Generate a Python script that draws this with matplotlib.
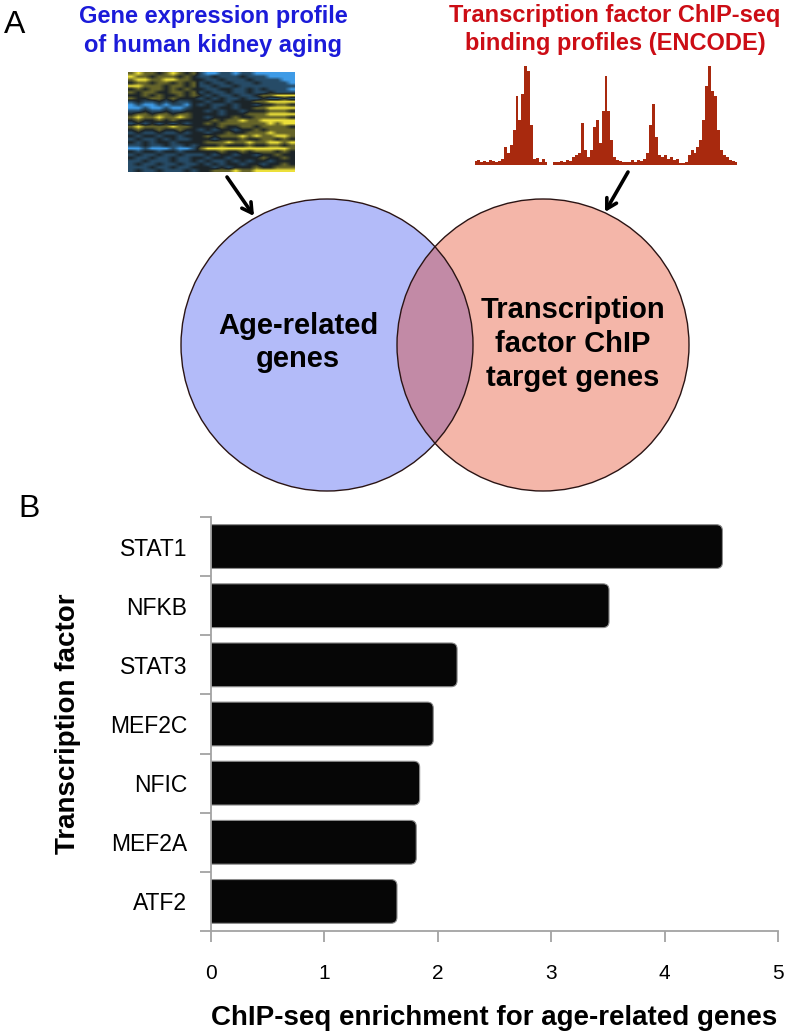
import numpy as np
import matplotlib
matplotlib.use('Agg')
import matplotlib.pyplot as plt
from matplotlib.patches import Circle, FancyBboxPatch
from matplotlib.colors import LinearSegmentedColormap

plt.rcParams['font.family'] = ['Liberation Sans', 'DejaVu Sans']

# ---------------- data ----------------
factors = ['STAT1', 'NFKB', 'STAT3', 'MEF2C', 'NFIC', 'MEF2A', 'ATF2']
enrichment = [4.51, 3.51, 2.17, 1.96, 1.84, 1.81, 1.64]
x_ticks = [0, 1, 2, 3, 4, 5]

# heatmap of kidney-aging expression (Y=high ... B=low); left block | right block
heatmap_rows = [
    "yYyykyYyky" + "bBBbbBbbBBBBBB",
    "Yyykyyykyk" + "bbkbbbkbbbBBBB",
    "yYYyyYYyyk" + "kbbkbbbkbbbbBB",
    "kyykyykyky" + "bkbbkbbbkbbbbB",
    "YYyyykyyky" + "bbkbbkbbbbbbbb",
    "kykyykykyk" + "kbbkkbbkbkbbbB",
    "ykyykkyyky" + "bkbbkbbkbbkbbb",
    "kkykykkyky" + "kbkbbkbbkyyYYY",
    "ykkyykykkk" + "bkbkbbkbbkbbkb",
    "bkbbkbkbbk" + "kbkkbkkkyyYYYY",
    "BbBBbBbbBk" + "bkbbkbkkbkkyyk",
    "BBbBBbBBbk" + "kkbkkbkkyyYYYY",
    "bbkbbkbbkk" + "kbkbkkbkkkyyyk",
    "kyykyykyyk" + "kkkbkkkyyyYYYY",
    "yYyyYyyYyk" + "kbkkkykkyyyyyk",
    "kykkykykkk" + "kkykyyYyyYYYYY",
    "bkbkbkbkbk" + "kykyyyyyyyYyYY",
    "yYyyyyYyyk" + "kkkykkyykyyyyk",
    "kykkykkykk" + "bkbkkbkkykyyyy",
    "bkbbkbbkbk" + "kbkkykkyyyYyyy",
    "kbkkbkkbkk" + "kykyyyYyYyyYYy",
    "bkbbkbkbbk" + "kkbkkkykkyykyk",
    "kbkbkkbkkk" + "kyyyYyyYyyYYyY",
    "bbkbbkbbkb" + "kkkykkkykkyyky",
    "BBbBBBbBBb" + "yYYYYYYYYYYYYy",
    "kbkkbkkbkk" + "kkkykkykyyykyk",
    "bkbbkbbkbb" + "bkbkkbkkbkkykk",
    "kbbkbbkbbk" + "kbkkbkkkkykkyk",
    "bbkbbbkbbk" + "bkbbkbkbkkbkkk",
    "bkbbkbbkbb" + "kbkbkkbkkbkkyk",
    "bbbkbbkbbk" + "kkbkbkkkykkyyy",
    "bkbbkbbbkb" + "kkyyyYyyYYYYYY",
]
level = {'Y': 1.0, 'y': 0.45, 'k': 0.0, 'b': -0.45, 'B': -1.0}

# ChIP-seq coverage track (relative signal per bin, nan = no data)
chip_coverage = [
    0.04, 0.05, 0.03, 0.04, 0.03, 0.05, 0.04, 0.03, 0.04, 0.06,
    0.18, 0.12, 0.20, 0.35, 0.70, 0.45, 0.72, 1.00, 0.95, 0.40,
    0.06, 0.07, 0.03, 0.06, 0.03, np.nan,
    0.03, 0.03, 0.03, 0.04, 0.03, 0.05, 0.04, 0.08, 0.10, 0.12,
    0.42, 0.15, 0.08, 0.15, 0.38, 0.45, 0.22, 0.55, 0.90, 0.55,
    0.25, 0.08, 0.05, 0.04, 0.03, 0.03, 0.03, 0.05, 0.03, 0.05,
    0.04, 0.06, 0.12, 0.40, 0.62, 0.28, 0.10, 0.08, 0.10, 0.06,
    0.08, 0.05, 0.06, 0.02, 0.02, 0.03,
    0.10, 0.15, 0.12, 0.18, 0.25, 0.45, 0.80, 1.00, 0.75, 0.70,
    0.35, 0.15, 0.10, 0.08, 0.05, 0.04, 0.03,
]

# ---------------- figure ----------------
W, H = 787, 1036
fig = plt.figure(figsize=(W / 100, H / 100), dpi=100)


def px_axes(x0, y0, x1, y1, **kw):
    return fig.add_axes([x0 / W, 1 - y1 / H, (x1 - x0) / W, (y1 - y0) / H], **kw)


# overlay axes in pixel coordinates
axA = fig.add_axes([0, 0, 1, 1])
axA.set_xlim(0, W)
axA.set_ylim(H, 0)
axA.axis('off')

axA.text(4, 33, 'A', fontsize=23, ha='left', va='baseline')
axA.text(18, 517, 'B', fontsize=23, ha='left', va='baseline')

blue_txt = '#1b1bd9'
red_txt = '#cc0d15'
axA.text(213, 23, 'Gene expression profile', color=blue_txt, fontsize=17,
         fontweight='bold', ha='center', va='baseline')
axA.text(213, 52, 'of human kidney aging', color=blue_txt, fontsize=17,
         fontweight='bold', ha='center', va='baseline')
axA.text(615, 22, 'Transcription factor ChIP-seq', color=red_txt, fontsize=17,
         fontweight='bold', ha='center', va='baseline')
axA.text(615, 50, 'binding profiles (ENCODE)', color=red_txt, fontsize=17,
         fontweight='bold', ha='center', va='baseline')

# Venn diagram
r = 146
c1 = (327, 345)
c2 = (543, 345)
col1 = '#b3bbf9'
col2 = '#f4b6a9'
col12 = '#c28aa6'
circ1 = Circle(c1, r, fc=col1, ec='none', zorder=1)
circ2 = Circle(c2, r, fc=col2, ec='none', zorder=1)
axA.add_patch(circ1)
axA.add_patch(circ2)
lens = Circle(c1, r, fc=col12, ec='none', zorder=2)
axA.add_patch(lens)
lens.set_clip_path(circ2)
for c in (c1, c2):
    axA.add_patch(Circle(c, r, fc='none', ec='#2a1414', lw=1.0, zorder=3))

axA.text(298, 334, 'Age-related', fontsize=21, fontweight='bold',
         ha='center', va='baseline', zorder=4)
axA.text(298, 367, 'genes', fontsize=21, fontweight='bold',
         ha='center', va='baseline', zorder=4)
for txt, yb in (('Transcription', 318), ('factor ChIP', 352), ('target genes', 386)):
    axA.text(573, yb, txt, fontsize=21, fontweight='bold',
             ha='center', va='baseline', zorder=4)

# arrows
arrow_kw = dict(arrowstyle='->,head_length=0.7,head_width=0.4', lw=2.6, color='black',
                shrinkA=0, shrinkB=0)
axA.annotate('', xy=(254, 216), xytext=(227, 177), arrowprops=arrow_kw)
axA.annotate('', xy=(605, 212), xytext=(628, 172), arrowprops=arrow_kw)

# heatmap inset
heat = np.array([[level[ch] for ch in row] for row in heatmap_rows])
cmap = LinearSegmentedColormap.from_list(
    'by', ['#3f9be6', '#28506e', '#1c2428', '#6e6c2a', '#ece03a'])
axH = px_axes(128, 72, 294, 172)
axH.imshow(heat, cmap=cmap, vmin=-1, vmax=1, aspect='auto', interpolation='bilinear')
axH.axis('off')

# ChIP-seq track inset
axC = px_axes(474, 66, 738, 165)
cov = np.array(chip_coverage, dtype=float)
xs = np.arange(len(cov))
axC.fill_between(xs, 0, cov, step='mid', color='#a8290e', lw=0)
axC.set_xlim(-0.5, len(cov) - 0.5)
axC.set_ylim(0, 1.0)
axC.axis('off')

# ---------------- panel B: bar chart ----------------
ax = px_axes(211, 517, 778, 931)
n = len(factors)
ypos = np.arange(n)
bars = ax.barh(ypos, enrichment, height=0.74, color='#060606')
ax.set_xlim(0, 5)
ax.set_ylim(n - 0.5, -0.5)

x_per_px = 5 / 567
y_per_px = n / 414
asp = y_per_px / x_per_px
rs = 6 * x_per_px
for b in bars:
    x0, y0, w, h = b.get_x(), b.get_y(), b.get_width(), b.get_height()
    b.set_visible(False)
    fb = FancyBboxPatch((x0 - 0.2, y0), w + 0.2, h,
                        boxstyle=f'round,pad=0,rounding_size={rs}',
                        mutation_aspect=asp, fc='#060606', ec='#8c8c8c', lw=0.8)
    ax.add_patch(fb)

spine_col = '#a3a3a3'
for s in ('top', 'right'):
    ax.spines[s].set_visible(False)
for s in ('left', 'bottom'):
    ax.spines[s].set_color(spine_col)
    ax.spines[s].set_linewidth(1.3)

ax.set_xticks(x_ticks)
ax.set_xticklabels([str(t) for t in x_ticks])
ax.tick_params(axis='x', colors=spine_col, labelcolor='black', length=8, width=1.3,
               direction='out', labelsize=15, pad=16)
ax.set_yticks(np.arange(n + 1) - 0.5)
ax.set_yticklabels([])
ax.tick_params(axis='y', which='major', colors=spine_col, length=8, width=1.3,
               direction='out')
ax.set_yticks(ypos, minor=True)
ax.set_yticklabels(factors, minor=True)
ax.tick_params(axis='y', which='minor', length=0, labelsize=16.5, pad=17,
               labelcolor='black')

fig.text(68 / W, 1 - 724 / H, 'Transcription factor', rotation=90, fontsize=20,
         fontweight='bold', ha='center', va='center')
fig.text(494 / W, 1 - 1025 / H, 'ChIP-seq enrichment for age-related genes',
         fontsize=20, fontweight='bold', ha='center', va='baseline')

fig.savefig('out.png', dpi=100)
